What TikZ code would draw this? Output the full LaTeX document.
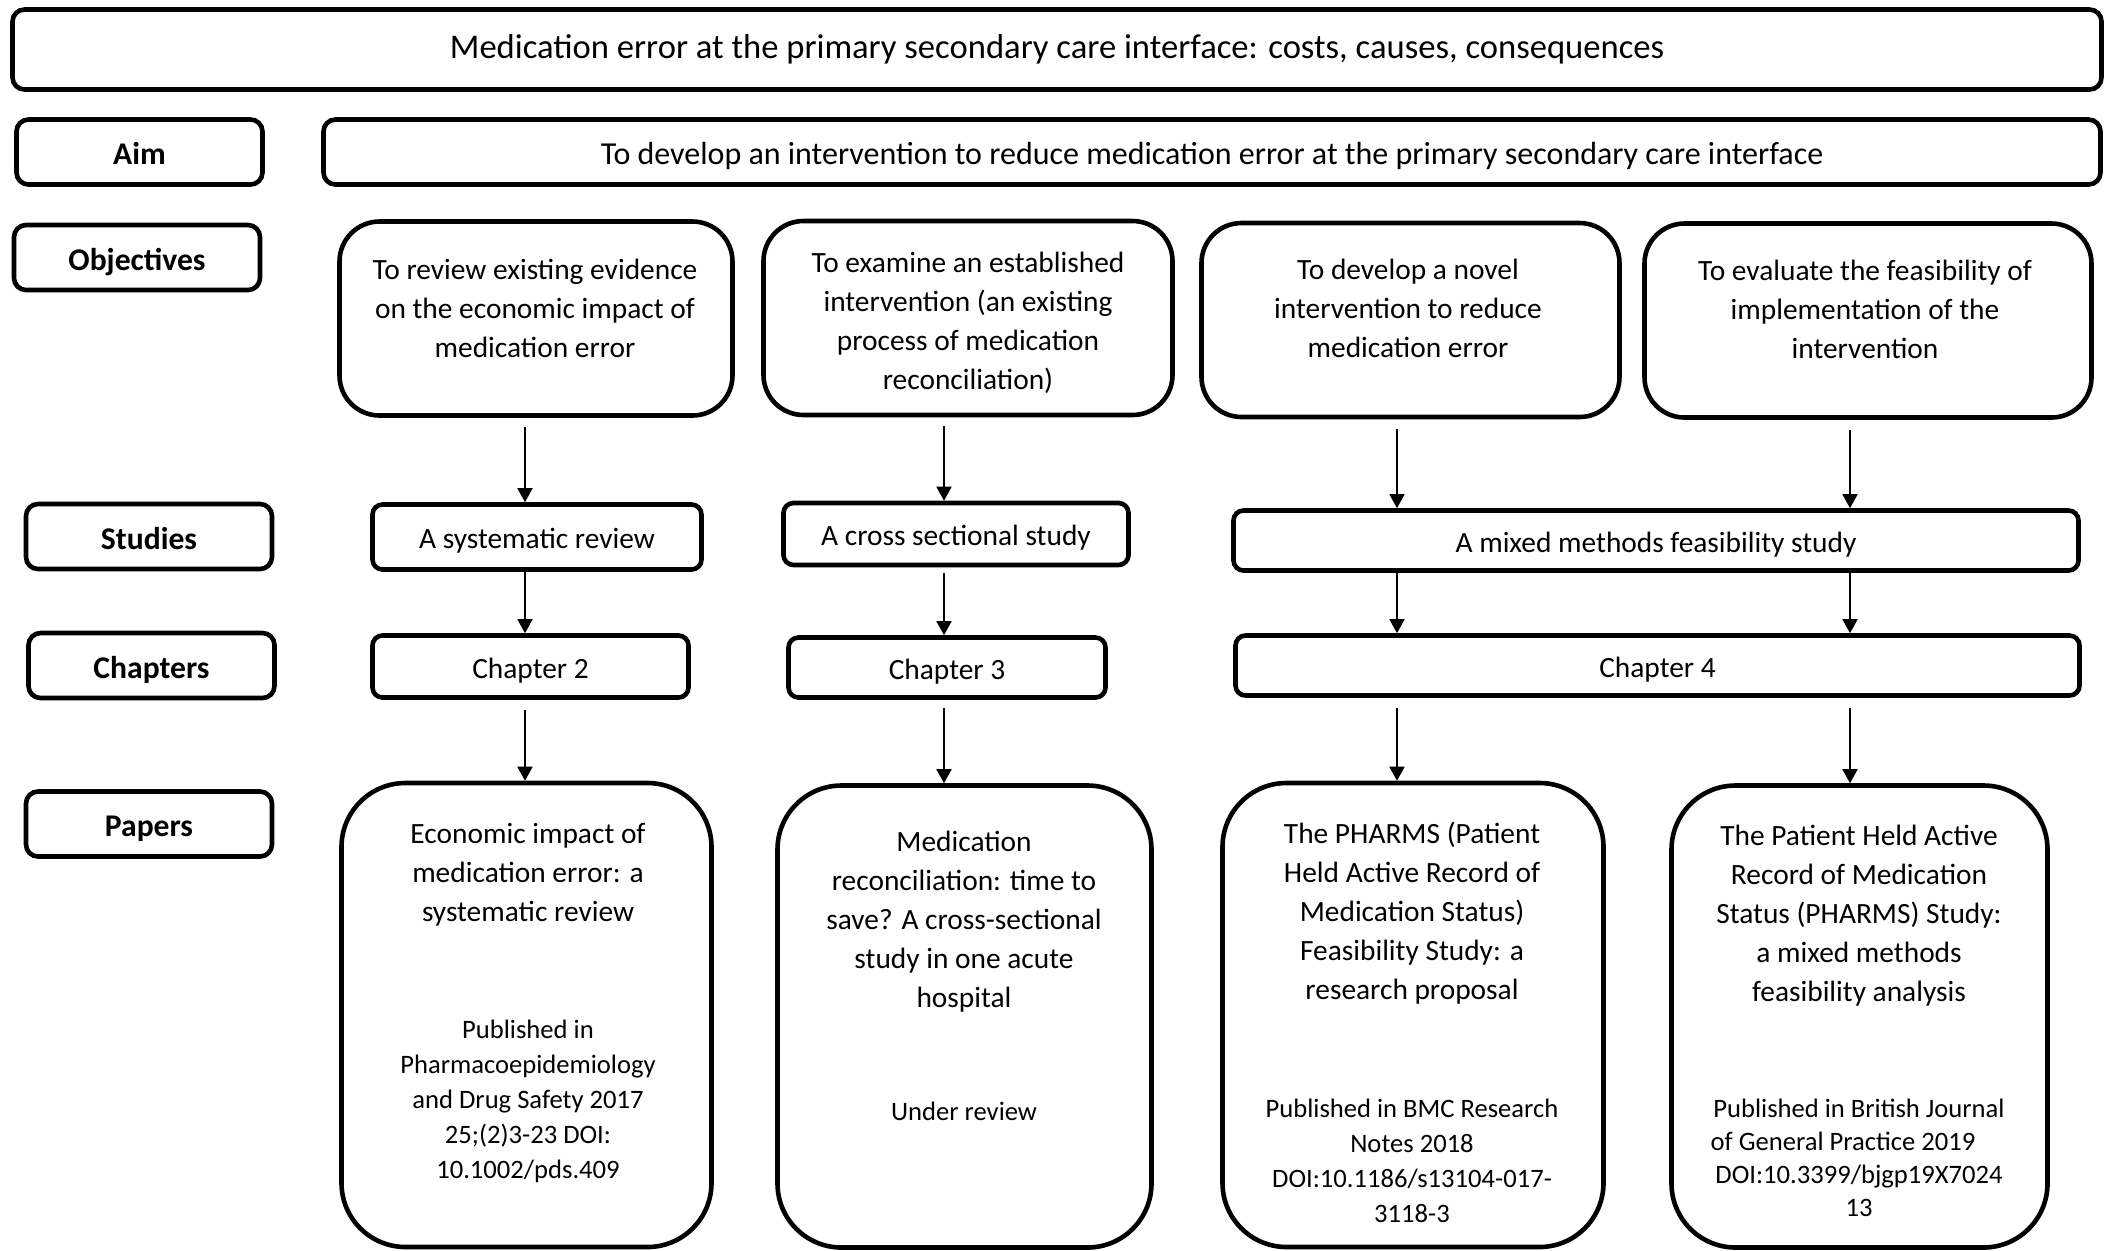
\documentclass[tikz,border=0pt]{standalone}
\usepackage{fontspec}
\setmainfont{Carlito}
\usetikzlibrary{arrows.meta}

\begin{document}
\begin{tikzpicture}[x=0.5pt,y=-0.5pt]
      \tikzstyle{box}=[rectangle,draw,line width=2.3pt,align=center,inner sep=0pt]
      \tikzstyle{lbl}=[box,rounded corners=6pt,minimum width=123pt,
        minimum height=32.5pt,text height=12.6pt,text depth=0pt,
        font=\fontsize{15.8pt}{19pt}\selectfont\bfseries]
      \tikzstyle{wide}=[box,rounded corners=6pt,minimum height=32.5pt]
      \tikzstyle{obj}=[box,rounded corners=20pt,minimum height=97pt]
      \tikzstyle{row}=[box,rounded corners=5pt,minimum height=31pt,
        text height=11.8pt,text depth=0pt,
        font=\fontsize{14.7pt}{19.5pt}\selectfont]
      \tikzstyle{paper}=[box,rounded corners=32pt,minimum height=231pt]
      \tikzstyle{ptitle}=[align=center,inner sep=0pt,
        font=\fontsize{14.7pt}{19.5pt}\selectfont]
      \tikzstyle{ppub}=[align=center,inner sep=0pt,
        font=\fontsize{13.3pt}{17.5pt}\selectfont]
      \tikzstyle{ar}=[-{Triangle[length=7pt,width=7.5pt]},line width=0.85pt]

      \useasboundingbox (0,0) rectangle (2111,1250);

      % top rows
      \node[wide,minimum width=1044.5pt,minimum height=40pt,
        font=\fontsize{17.3pt}{21pt}\selectfont] (T) at (1057,49.5)
        {Medication error at the primary secondary care interface: costs, causes, consequences};
      \node[lbl] (aim) at (139.5,152) {Aim};
      \node[wide,minimum width=888.5pt,text height=12.8pt,text depth=0pt,
        font=\fontsize{16pt}{20pt}\selectfont] (A) at (1212,152)
        {To develop an intervention to reduce medication error at the primary secondary care interface};

      % row labels
      \node[lbl] (objl) at (137,257.5)   {Objectives};
      \node[lbl] (studl) at (149,536.5)  {Studies};
      \node[lbl] (chapl) at (151.5,665.5) {Chapters};
      \node[lbl] (papl) at (149,824)     {Papers};

      % objectives
      \node[obj,minimum width=196.5pt] (o1) at (536,318.5) {};
      \node[obj,minimum width=204.5pt] (o2) at (968,318) {};
      \node[obj,minimum width=209pt] (o3) at (1410.5,320) {};
      \node[obj,minimum width=223.5pt] (o4) at (1868,320.5) {};

      \node[ptitle] (o1t) at (535,308)
        {To review existing evidence\\on the economic impact of\\medication error};
      \node[ptitle] (o2t) at (968,323)
        {To examine an established\\intervention (an existing\\process of medication\\reconciliation)};
      \node[ptitle] (o3t) at (1408,308)
        {To develop a novel\\intervention to reduce\\medication error};
      \node[ptitle] (o4t) at (1865,309.5)
        {To evaluate the feasibility of\\implementation of the\\intervention};

      % studies and chapters
      \node[row,minimum width=164.5pt,minimum height=32.5pt] (s1) at (537,537) {A systematic review};
      \node[row,minimum width=172.5pt] (s2) at (956,534) {A cross sectional study};
      \node[row,minimum width=422.5pt,minimum height=30pt] (s3) at (1656,540.5)
        {A mixed methods feasibility study};
      \node[row,minimum width=158pt] (c2) at (530.5,666.5) {Chapter 2};
      \node[row,minimum width=158.5pt,minimum height=30pt] (c3) at (947,667.5) {Chapter 3};
      \node[row,minimum width=422pt,minimum height=30pt] (c4) at (1657.5,665.5) {Chapter 4};

      % papers
      \node[paper,minimum width=185pt,minimum height=232pt] (p1) at (526.5,1015) {};
      \node[paper,minimum width=187pt] (p2) at (964.5,1016.5) {};
      \node[paper,minimum width=190.5pt,minimum height=232pt] (p3) at (1413,1015) {};
      \node[paper,minimum width=188pt] (p4) at (1859.5,1016.5) {};

      \node[ptitle] (p1t) at (528,875)
        {Economic impact of\\medication error: a\\systematic review};
      \node[ppub] (p1d) at (528,1101)
        {Published in\\Pharmacoepidemiology\\and Drug Safety 2017\\25;(2)3-23 DOI:\\10.1002/pds.409};
      \node[ptitle] (p2t) at (964,922)
        {Medication\\reconciliation: time to\\save? A cross-sectional\\study in one acute\\hospital};
      \node[ppub] (p2d) at (964,1111) {Under review};
      \node[ptitle] (p3t) at (1412,913.5)
        {The PHARMS (Patient\\Held Active Record of\\Medication Status)\\Feasibility Study: a\\research proposal};
      \node[ppub] (p3d) at (1412,1161)
        {Published in BMC Research\\Notes 2018\\DOI:10.1186/s13104-017-\\3118-3};
      \node[ptitle] (p4t) at (1859,916)
        {The Patient Held Active\\Record of Medication\\Status (PHARMS) Study:\\a mixed methods\\feasibility analysis};
      \node[ppub,font=\fontsize{13.3pt}{16.4pt}\selectfont] (p4d) at (1859,1158)
        {Published in British Journal\\of General Practice 2019\kern16pt\\DOI:10.3399/bjgp19X7024\\13};

      % arrow columns
      \coordinate (k1) at (525,0);
      \coordinate (k2) at (944,0);
      \coordinate (k3) at (1397,0);
      \coordinate (k4) at (1850,0);

      \draw[ar,shorten <=4.5pt] (o1.south -| k1) -- (s1.north -| k1);
      \draw[ar,shorten <=4.5pt] (o2.south -| k2) -- (s2.north -| k2);
      \draw[ar,shorten <=5pt] (o3.south -| k3) -- (s3.north -| k3);
      \draw[ar,shorten <=5pt] (o4.south -| k4) -- (s3.north -| k4);

      \draw[ar] (s1.south -| k1) -- (c2.north -| k1);
      \draw[ar,shorten <=3pt] (s2.south -| k2) -- (c3.north -| k2);
      \draw[ar] (s3.south -| k3) -- (c4.north -| k3);
      \draw[ar] (s3.south -| k4) -- (c4.north -| k4);

      \draw[ar,shorten <=5pt] (c2.south -| k1) -- (p1.north -| k1);
      \draw[ar,shorten <=4pt] (c3.south -| k2) -- (p2.north -| k2);
      \draw[ar,shorten <=5pt] (c4.south -| k3) -- (p3.north -| k3);
      \draw[ar,shorten <=5pt] (c4.south -| k4) -- (p4.north -| k4);
    \end{tikzpicture}
\end{document}
